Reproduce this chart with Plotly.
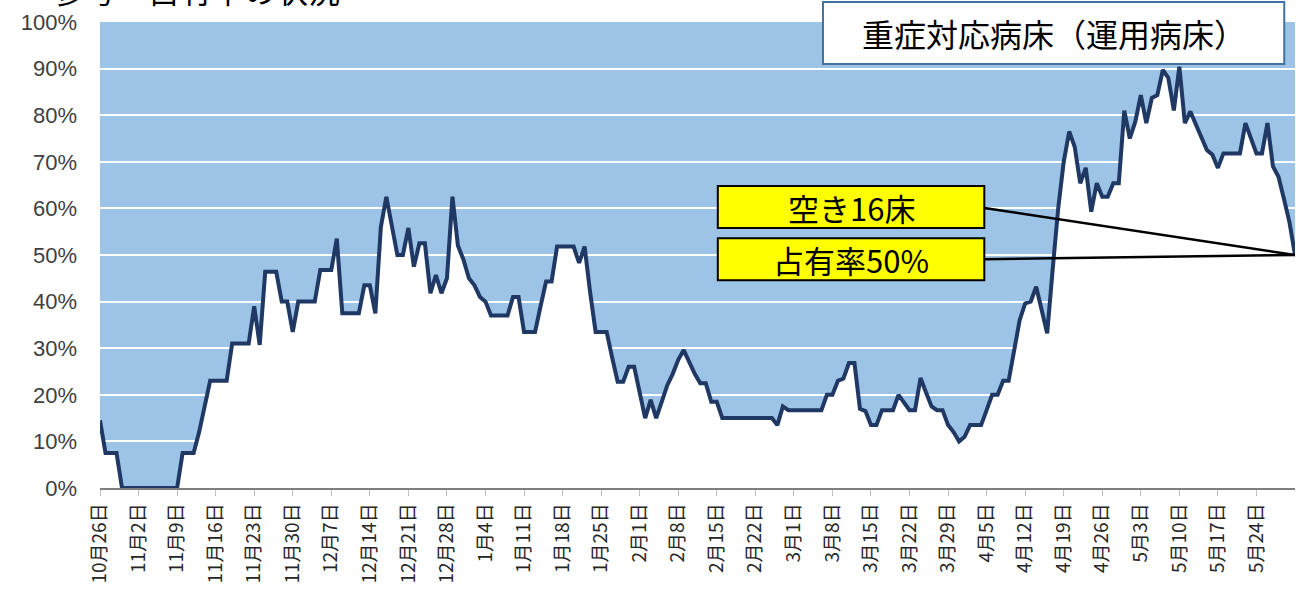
import pandas as pd
import plotly.graph_objects as go

start_date = "2020-10-26"

# daily occupancy rate (%) of severe-case beds
occupancy = [
    14.5, 7.5, 7.5, 7.5, 0, 0, 0, 0, 0, 0,
    0, 0, 0, 0, 0, 7.5, 7.5, 7.5, 12, 18,
    23, 23, 23, 23, 31, 31, 31, 31, 39, 30.7,
    46.4, 46.4, 46.4, 40, 40, 33.5, 40, 40, 40, 40,
    46.8, 46.8, 46.8, 53.5, 37.5, 37.5, 37.5, 37.5, 43.5, 43.5,
    37.5, 56, 62.5, 56, 50, 50, 55.8, 47.5, 52.5, 52.5,
    41.8, 45.7, 41.8, 45, 62.5, 52, 49, 45, 43.5, 41,
    40, 37, 37, 37, 37, 41, 41, 33.5, 33.5, 33.5,
    39, 44.3, 44.3, 51.8, 51.8, 51.8, 51.8, 48.3, 51.8, 42,
    33.5, 33.5, 33.5, 28, 22.8, 22.8, 26, 26, 20, 15,
    18.9, 15, 18.5, 22, 24.5, 27.5, 29.6, 27, 24.5, 22.5,
    22.5, 18.5, 18.5, 15, 15, 15, 15, 15, 15, 15,
    15, 15, 15, 13.5, 17.5, 16.7, 16.7, 16.7, 16.7, 16.7,
    16.7, 16.7, 20, 20, 23, 23.5, 26.8, 26.8, 17, 16.5,
    13.5, 13.5, 16.7, 16.7, 16.7, 20, 18.5, 16.7, 16.7, 23.6,
    20.5, 17.5, 16.7, 16.7, 13.5, 12, 10, 11, 13.5, 13.5,
    13.5, 16.7, 20, 20, 23, 23, 30, 36, 39.6, 40,
    43.2, 38, 33.2, 47, 60, 70, 76.5, 73.2, 65.4, 68.7,
    59.3, 65.4, 62.5, 62.5, 65.4, 65.4, 81, 75, 78.6, 84.3,
    78.3, 83.7, 84.3, 89.7, 88, 81, 90.4, 78.3, 80.8, 78,
    75, 72.5, 71.5, 68.7, 71.8, 71.8, 71.8, 71.8, 78.3, 75,
    71.8, 71.8, 78.3, 69, 66.8, 62, 57, 50,
]

tick_labels = [
    "10月26日", "11月2日", "11月9日", "11月16日", "11月23日", "11月30日",
    "12月7日", "12月14日", "12月21日", "12月28日", "1月4日", "1月11日",
    "1月18日", "1月25日", "2月1日", "2月8日", "2月15日", "2月22日",
    "3月1日", "3月8日", "3月15日", "3月22日", "3月29日", "4月5日",
    "4月12日", "4月19日", "4月26日", "5月3日", "5月10日", "5月17日", "5月24日",
]

title_text = "参考　占有率の状況"
box_title = "重症対応病床（運用病床）"
label_free = "空き16床"
label_rate = "占有率50%"

dates = pd.date_range(start_date, periods=len(occupancy), freq="D")
tick_dates = pd.date_range(start_date, periods=len(tick_labels), freq="7D")
rates = [v / 100 for v in occupancy]

JP = "Noto Sans CJK JP"

fig = go.Figure()
fig.add_trace(go.Scatter(
    x=dates, y=rates, mode="lines",
    line=dict(color="#1F3864", width=4),
    fill="tozeroy", fillcolor="#FFFFFF",
    hoverinfo="skip", showlegend=False,
))

fig.update_layout(
    width=1296, height=609,
    margin=dict(l=100, r=1, t=22, b=121, autoexpand=False),
    paper_bgcolor="#FFFFFF",
    plot_bgcolor="#9DC3E6",
    showlegend=False,
    xaxis=dict(
        range=[dates[0], dates[-1]],
        tickvals=tick_dates, ticktext=tick_labels,
        tickangle=-90,
        tickfont=dict(family=JP, size=19, color="#262626"),
        showgrid=False, zeroline=False,
        showline=True, linecolor="#7F7F7F", linewidth=1.5,
        ticks="outside", ticklen=6, tickcolor="#BFBFBF", tickwidth=1,
    ),
    yaxis=dict(
        range=[0, 1],
        tickvals=[i / 10 for i in range(11)],
        tickformat=".0%",
        tickfont=dict(family="Liberation Sans", size=22, color="#404040"),
        showgrid=True, gridcolor="#FFFFFF", gridwidth=2,
        zeroline=False, showline=False,
        ticklabelstandoff=22,
    ),
)

# clipped heading at top-left
fig.add_annotation(
    xref="paper", yref="paper", x=-0.042, y=1.070,
    xanchor="left", yanchor="middle",
    text=title_text, showarrow=False,
    font=dict(family=JP, size=32, color="#000000"),
)

# title box
fig.add_shape(type="rect", xref="paper", yref="paper",
              x0=0.605, x1=0.991, y0=0.910, y1=1.043,
              fillcolor="#FFFFFF", line=dict(color="#41719C", width=2), layer="above")
fig.add_annotation(xref="paper", yref="paper", x=0.798, y=0.976,
                   xanchor="center", yanchor="middle",
                   text=box_title, showarrow=False,
                   font=dict(family=JP, size=32, color="#000000"))

# connector lines to the last point
last_y = rates[-1]
fig.add_shape(type="line", xref="paper", yref="y",
              x0=0.740, y0=0.601, x1=1.0, y1=last_y,
              line=dict(color="#000000", width=2.5), layer="above")
fig.add_shape(type="line", xref="paper", yref="y",
              x0=0.740, y0=0.491, x1=1.0, y1=last_y,
              line=dict(color="#000000", width=2.5), layer="above")

# yellow labels
for (y0, y1, yc, txt) in [(0.558, 0.648, 0.603, label_free),
                          (0.446, 0.536, 0.491, label_rate)]:
    fig.add_shape(type="rect", xref="paper", yref="paper",
                  x0=0.517, x1=0.740, y0=y0, y1=y1,
                  fillcolor="#FFFF00", line=dict(color="#000000", width=2), layer="above")
    fig.add_annotation(xref="paper", yref="paper", x=0.6285, y=yc,
                       xanchor="center", yanchor="middle",
                       text=txt, showarrow=False,
                       font=dict(family=JP, size=31, color="#000000"))

fig.write_html(
    "out.html",
    config={"displayModeBar": False},
    post_script="document.body.style.margin='0';document.body.style.padding='0';",
)
